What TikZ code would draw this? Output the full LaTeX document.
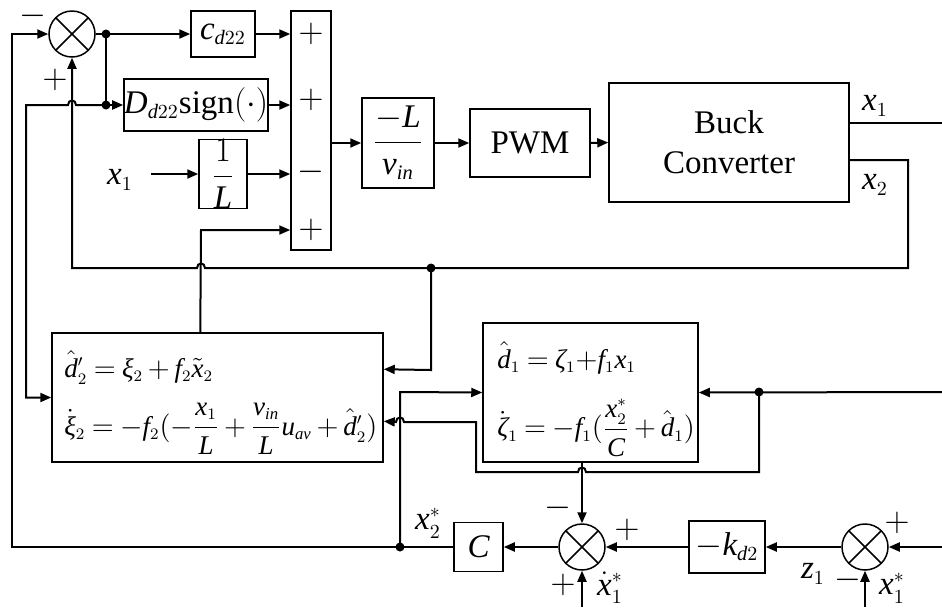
\documentclass[tikz,border=0pt]{standalone}
\usepackage{amsmath}
\usepackage{fontspec}
\setmainfont{Liberation Serif}[NFSSFamily=libserif]
\DeclareSymbolFont{tlet}{TU}{libserif}{m}{it}
\DeclareSymbolFont{tup}{TU}{libserif}{m}{n}
\makeatletter
\count@=`a \loop \Umathcode\count@="7 \symtlet \count@ \ifnum\count@<`z \advance\count@ 1 \repeat
\count@=`A \loop \Umathcode\count@="7 \symtlet \count@ \ifnum\count@<`Z \advance\count@ 1 \repeat
\count@=`0 \loop \Umathcode\count@="0 \symtup \count@ \ifnum\count@<`9 \advance\count@ 1 \repeat
\makeatother
\renewcommand{\defaultscriptratio}{.62}
\def\txi{\Umathchar"0\symtlet"03BE }
\def\tzeta{\Umathchar"0\symtlet"03B6 }
\newcommand{\eqsp}{\thickmuskip=4mu\relax\medmuskip=3mu\relax}
\usetikzlibrary{arrows.meta,calc}
\tikzset{
  blk/.style={draw, line width=0.75pt, inner sep=0pt, align=center},
  sumc/.style={circle, draw, line width=0.75pt, minimum size=23pt, inner sep=0pt,
    path picture={\draw[line width=0.75pt] (path picture bounding box.north west) -- (path picture bounding box.south east)
      (path picture bounding box.north east) -- (path picture bounding box.south west);}},
  conn/.style={line width=1pt},
  arr/.style={line width=1pt, -{Triangle[length=5.5pt,width=4.5pt]}},
  jdot/.style={circle, fill, inner sep=0pt, minimum size=4.5pt},
  lbl/.style={inner sep=0pt},
  every node/.style={font=\fontsize{16.5}{20}\selectfont},
  eqf/.style={inner sep=0pt, font=\fontsize{13.5}{16}\selectfont},
}
\begin{document}
\begin{tikzpicture}[x=0.5pt,y=-0.5pt]
\useasboundingbox (0,0) rectangle (942,607);
% blocks
\node[sumc] (S1) at (72,34) {};
\node[sumc] (S2) at (582,547) {};
\node[sumc] (S3) at (865,547) {};
\node[blk, minimum width=32pt, minimum height=23pt] (c) at (223,34) {$c_{d22}$};
\node[blk, minimum width=67pt, minimum height=26pt] (D) at (196,105) {$D_{d22}\mathrm{sign}(\cdot)$};
\node[blk, minimum width=24pt, minimum height=34pt] (L1) at (223,174) {$\dfrac{1}{L}$};
\node[blk, minimum width=20pt, minimum height=119.5pt] (sb) at (311,130.5) {};
\node[blk, minimum width=36pt, minimum height=45pt] (Lv) at (398,143) {$\dfrac{-L}{v_{in}}$};
\node[blk, minimum width=60pt, minimum height=34pt] (pwm) at (530,143) {PWM};
\node[blk, minimum width=120pt, minimum height=59.5pt] (buck) at (729,142.5) {Buck\\Converter};
\node[blk, minimum width=165.5pt, minimum height=64.5pt] (eqL) at (217.5,397.5) {};
\node[blk, minimum width=107.5pt, minimum height=69.5pt] (eqR) at (590.5,392.5) {};
\node[blk, minimum width=24.5pt, minimum height=24.5pt] (C) at (478.5,547) {$C$};
\node[blk, minimum width=38pt, minimum height=26pt] (k) at (727,547) {$-k_{d2}$};
% equations
\node[eqf, anchor=base west] (e1) at (64,377) {$\eqsp\hat d_2' = \txi_2 + f_2\tilde x_2$};
\node[eqf, anchor=west] (e2) at (64,429) {$\eqsp\dot\txi_2 = -f_2(-\dfrac{x_1}{L} + \dfrac{v_{in}}{L}u_{av} + \hat d_2')$};
\node[eqf, anchor=base west] (e3) at (497,368) {$\eqsp\hat d_1 = \tzeta_1{+}f_1x_1$};
\node[eqf, anchor=west] (e4) at (497,428) {$\eqsp\dot\tzeta_1 = -f_1(\dfrac{x_2^*}{C} + \hat d_1)$};
% signs in sum block
\node[lbl] (p1) at (311,34) {$+$};
\node[lbl] (p2) at (311,100) {$+$};
\node[lbl] (p3) at (311,172) {$-$};
\node[lbl] (p4) at (311,230) {$+$};
% labels
\node[lbl] (s1m) at (33,16) {$-$};
\node[lbl] (s1p) at (55,80) {$+$};
\node[lbl] (x1in) at (120,180) {$x_1$};
\node[lbl] (x1o) at (875,106) {$x_1$};
\node[lbl] (x2o) at (875,185) {$x_2$};
\node[lbl] (x2s) at (428,523) {$x_2^*$};
\node[lbl] (s2m) at (558,508) {$-$};
\node[lbl] (s2p) at (627,530) {$+$};
\node[lbl] (s2b) at (563,585) {$+$};
\node[lbl] (x1d) at (610,588) {$\dot x_1^*$};
\node[lbl] (z1) at (813,574) {$z_1$};
\node[lbl] (s3p) at (897,523) {$+$};
\node[lbl] (s3m) at (848,580) {$-$};
\node[lbl] (x1s) at (892,588) {$x_1^*$};
% junction dots
\node[jdot] (d1) at (106,34) {};
\node[jdot] (d2) at (106,105) {};
\node[jdot] (d3) at (431,268) {};
\node[jdot] (d4) at (400,547) {};
\node[jdot] (d5) at (759,392) {};
\coordinate (x1start) at (151,174);
\coordinate (rin1) at (942,392);
\coordinate (rin2) at (942,547);
\coordinate (bin2) at (582,607);
\coordinate (bin3) at (865,607);
\coordinate (x1end) at (942,123);
% connectors
\draw[arr] (S1.east) -- (c.west);
\draw[conn] (d1.center) -- (d2.center);
\draw[arr] (d2.center) -- (D.west);
\draw[arr] (d2.center) -- (76,105) .. controls (76,99) and (68,99) .. (68,105) -- (26,105) -- (26,397.5) -- (eqL.west);
\draw[arr] (c.east) -- (c.east -| sb.west);
\draw[arr] (D.east) -- (D.east -| sb.west);
\draw[arr] (x1start) -- (L1.west);
\draw[arr] (L1.east) -- (L1.east -| sb.west);
\draw[arr] ([xshift=74.5pt]eqL.north west) -- (201,230) -- (sb.west |- p4);
\draw[arr] (sb.east |- Lv.west) -- (Lv.west);
\draw[arr] (Lv.east) -- (pwm.west);
\draw[arr] (pwm.east) -- (buck.west);
\draw[conn] (buck.east |- x1end) -- (x1end);
\draw[arr] ([yshift=-8.75pt]buck.east) -- (908,160) -- (908,268) -- (205,268) .. controls (205,262) and (197,262) .. (197,268) -- (72,268) -- (S1.south);
\draw[arr] (d3.center) -- (431,370) -- ([yshift=-18.5pt]eqL.north east);
\draw[arr] (d4.center) -- (400,392) -- (eqR.west);
\draw[arr] (rin1) -- (eqR.east);
\draw[arr] (d5.center) -- (759,472) -- (586,472) .. controls (586,466) and (578,466) .. (578,472) -- (476,472) -- (476,422) -- (404,422) .. controls (404,416) and (396,416) .. (396,422) -- ([yshift=-44.5pt]eqL.north east);
\draw[arr] (eqR.south -| S2.north) -- (S2.north);
\draw[arr] (bin2) -- (S2.south);
\draw[arr] (S2.west) -- (C.east);
\draw[arr] (C.west) -- (d4.center) -- (12,547) -- (12,34) -- (S1.west);
\draw[arr] (k.west) -- (S2.east);
\draw[arr] (S3.west) -- (k.east);
\draw[arr] (rin2) -- (S3.east);
\draw[arr] (bin3) -- (S3.south);
\end{tikzpicture}
\end{document}
